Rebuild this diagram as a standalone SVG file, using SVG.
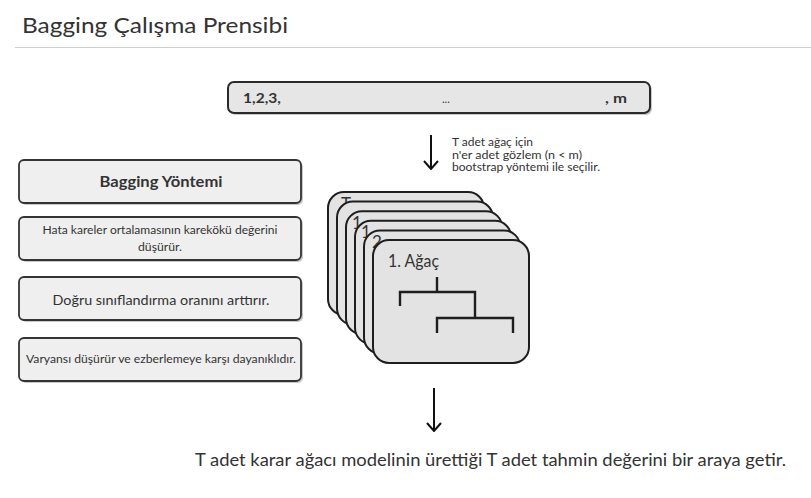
<svg xmlns="http://www.w3.org/2000/svg" width="811" height="498" viewBox="0 0 811 498">
<style>
text{font-family:Lato,"Open Sans","Noto Sans",sans-serif;fill:#333}
.box{fill:#efefef;stroke:#333;stroke-width:1.8}
.shadow{fill:#9a9a9a;opacity:.55}
.card{fill:#e3e3e3;stroke:#1e1e1e;stroke-width:2}
.tree{fill:none;stroke:#1e1e1e;stroke-width:2.4}
.conn{fill:none;stroke:#111;stroke-width:2}
</style>
<defs>
<marker id="arr" viewBox="0 0 10 16" refX="9" refY="8" markerWidth="10" markerHeight="16" markerUnits="userSpaceOnUse" orient="auto">
<path d="M1,1 L9,8 L1,15" fill="none" stroke="#111" stroke-width="2"/>
</marker>
</defs>
<rect width="811" height="498" fill="#fff"/>
<g id="title">
<text x="22" y="33" font-size="22" textLength="266" lengthAdjust="spacingAndGlyphs">Bagging Çalışma Prensibi</text>
<line x1="15" y1="47.5" x2="811" y2="47.5" stroke="#cfcfcf" stroke-width="1.2"/>
</g>
<g id="data-bar">
<rect x="230" y="84" width="422" height="31" rx="6" class="shadow"/>
<rect x="228" y="82" width="422" height="31" rx="6" fill="#e6e6e6" stroke="#2a2a2a" stroke-width="2"/>
<text x="243" y="103" font-size="13" font-weight="700" textLength="38" lengthAdjust="spacingAndGlyphs">1,2,3,</text>
<text x="442" y="103" font-size="11">...</text>
<text x="605" y="103" font-size="14" font-weight="700" textLength="22" lengthAdjust="spacingAndGlyphs">, m</text>
</g>
<g id="bootstrap-note">
<text x="452" y="146" font-size="10.5" fill="#444" textLength="81" lengthAdjust="spacingAndGlyphs">T adet ağaç için</text>
<text x="452" y="158.5" font-size="10.5" fill="#444" textLength="130" lengthAdjust="spacingAndGlyphs">n'er adet gözlem (n &lt; m)</text>
<text x="452" y="171" font-size="10.5" fill="#444" textLength="148" lengthAdjust="spacingAndGlyphs">bootstrap yöntemi ile seçilir.</text>
</g>
<g id="box-bagging">
<rect x="21" y="162" width="282" height="43" rx="5" class="shadow"/>
<rect x="19" y="160" width="282" height="43" rx="5" class="box"/>
<text x="161" y="187" font-size="15" font-weight="700" text-anchor="middle" textLength="123" lengthAdjust="spacingAndGlyphs">Bagging Yöntemi</text>
</g>
<g id="box-hata">
<rect x="21" y="219" width="282" height="43" rx="5" class="shadow"/>
<rect x="19" y="217" width="282" height="43" rx="5" class="box"/>
<text x="160" y="234" font-size="11.5" text-anchor="middle" textLength="235" lengthAdjust="spacingAndGlyphs">Hata kareler ortalamasının karekökü değerini</text>
<text x="160" y="251" font-size="11.5" text-anchor="middle" textLength="44" lengthAdjust="spacingAndGlyphs">düşürür.</text>
</g>
<g id="box-dogru">
<rect x="21" y="279" width="282" height="43" rx="5" class="shadow"/>
<rect x="19" y="277" width="282" height="43" rx="5" class="box"/>
<text x="161" y="305" font-size="13" text-anchor="middle" textLength="217" lengthAdjust="spacingAndGlyphs">Doğru sınıflandırma oranını arttırır.</text>
</g>
<g id="box-varyans">
<rect x="21" y="340" width="282" height="43" rx="5" class="shadow"/>
<rect x="19" y="338" width="282" height="43" rx="5" class="box"/>
<text x="161" y="363" font-size="11.5" text-anchor="middle" textLength="270" lengthAdjust="spacingAndGlyphs">Varyansı düşürür ve ezberlemeye karşı dayanıklıdır.</text>
</g>
<g id="tree-stack">
<g id="card-T">
<rect x="328" y="192" width="156" height="123" rx="16" class="card"/>
<text x="341" y="210" font-size="17">T</text>
</g>
<g id="card-5">
<rect x="337" y="201.6" width="156" height="123" rx="16" class="card"/>
</g>
<g id="card-4">
<rect x="346" y="211.2" width="156" height="123" rx="16" class="card"/>
<text x="352" y="229" font-size="17">1</text>
</g>
<g id="card-3">
<rect x="355" y="220.8" width="156" height="123" rx="16" class="card"/>
<text x="361" y="238" font-size="17">1</text>
</g>
<g id="card-2">
<rect x="364" y="230.4" width="156" height="123" rx="16" class="card"/>
<text x="372" y="248" font-size="17">2</text>
</g>
<g id="card-1">
<rect x="373" y="240" width="156" height="123" rx="16" class="card"/>
<text x="388" y="267" font-size="17.5" textLength="51" lengthAdjust="spacingAndGlyphs">1. Ağaç</text>
<path class="tree" d="M437,277 V292 M400,306 V292 H475 V318 M437,333 V318 H513 V333"/>
</g>
</g>
<g id="connectors">
<line x1="431" y1="135" x2="431" y2="169" class="conn" marker-end="url(#arr)"/>
<line x1="434" y1="388" x2="434" y2="431" class="conn" marker-end="url(#arr)"/>
</g>
<g id="result">
<text x="195" y="466" font-size="17" textLength="591" lengthAdjust="spacingAndGlyphs">T adet karar ağacı modelinin ürettiği T adet tahmin değerini bir araya getir.</text>
</g>
</svg>
